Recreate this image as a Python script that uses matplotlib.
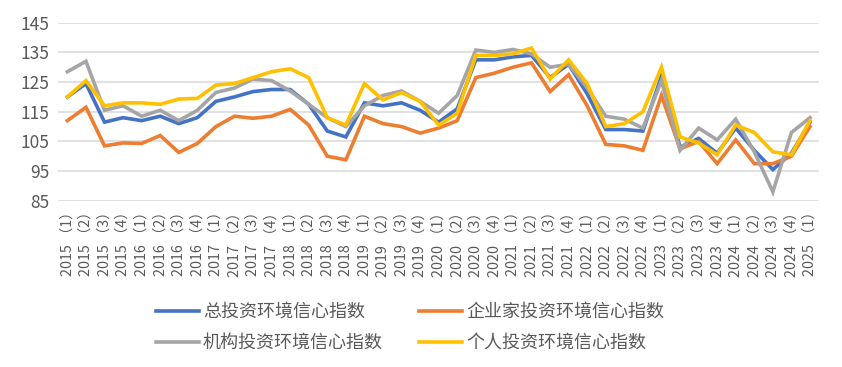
import matplotlib.pyplot as plt

plt.rcParams['font.family'] = ['Noto Sans CJK SC', 'DejaVu Sans']

# quarters 2015(1) .. 2025(1)
years = [2015 + i // 4 for i in range(41)]
quarters = [i % 4 + 1 for i in range(41)]
labels = ['%d （%d）' % (y, q) for y, q in zip(years, quarters)]

total = [120, 124.5, 111.5, 113, 112, 113.5, 111, 113, 118.5, 120, 121.8, 122.5,
         122.5, 117.5, 108.5, 106.5, 118, 117, 118, 115.5, 111.5, 116, 132.5, 132.5,
         133.5, 134, 126.5, 131, 121, 109, 109, 108.5, 127, 103, 106, 101,
         109.5, 102, 95.5, 101, 111.5]
enterprise = [112, 116.5, 103.5, 104.5, 104.3, 107, 101.3, 104.3, 110, 113.5, 112.8, 113.5,
              115.8, 110.5, 100, 98.8, 113.5, 111, 110, 107.8, 109.5, 112, 126.5, 128,
              130, 131.5, 121.8, 127.5, 117, 104, 103.5, 102, 120.5, 102.5, 105, 97.5,
              105.5, 97.5, 97.5, 100, 110]
institution = [128.5, 132, 115.5, 117, 113.5, 115.5, 112, 115.5, 121.5, 123, 126, 125.5,
               122, 117.5, 113, 110, 117, 120.5, 122, 118.5, 114.5, 120.5, 135.8, 135,
               136, 134.5, 130, 131, 123, 113.5, 112.5, 109.5, 125.5, 102, 109.5, 105.5,
               112.5, 101.5, 88, 108, 113]
individual = [120, 125.5, 117, 118, 118, 117.5, 119.3, 119.5, 124, 124.5, 126.5, 128.5,
              129.5, 126.5, 113, 110.5, 124.5, 119, 121.5, 118.5, 110.5, 114.5, 134, 134,
              134.5, 136.5, 126, 132.5, 124.5, 110, 111, 115, 130, 106.5, 104.5, 100.5,
              110.5, 108, 101.5, 100.5, 112]

series = [('总投资环境信心指数', total, '#4472C4'),
          ('企业家投资环境信心指数', enterprise, '#ED7D31'),
          ('机构投资环境信心指数', institution, '#A5A5A5'),
          ('个人投资环境信心指数', individual, '#FFC000')]

fig = plt.figure(figsize=(8.42, 3.67), dpi=100)
ax = fig.add_axes([0.069, 0.453, 0.904, 0.485])

x = list(range(len(labels)))
lines = {}
for name, vals, color in series:
    lines[name], = ax.plot(x, vals, color=color, lw=2.6, label=name, solid_joinstyle='miter')

ax.set_xlim(-0.5, len(labels) - 0.5)
ax.set_ylim(85, 145)
ax.set_yticks(range(85, 146, 10))
ax.yaxis.grid(True, color='#D9D9D9', lw=1.1)
ax.set_axisbelow(True)
for s in ax.spines.values():
    s.set_visible(False)
ax.tick_params(axis='both', length=0, colors='#595959')
ax.tick_params(axis='y', labelsize=12.5, pad=6)
ax.set_xticks(x)
ax.set_xticklabels(labels, rotation=90, fontsize=10.3, color='#595959')
ax.tick_params(axis='x', pad=3)

# legend: two rows, two columns
order = ['总投资环境信心指数', '机构投资环境信心指数', '企业家投资环境信心指数', '个人投资环境信心指数']
fig.legend([lines[n] for n in order], order, loc='center', bbox_to_anchor=(0.487, 0.108),
           ncol=2, frameon=False, fontsize=13, handlelength=2.4, columnspacing=2.0,
           labelspacing=0.72, handletextpad=0.2, labelcolor='#595959')

plt.savefig('out.png', dpi=100)
